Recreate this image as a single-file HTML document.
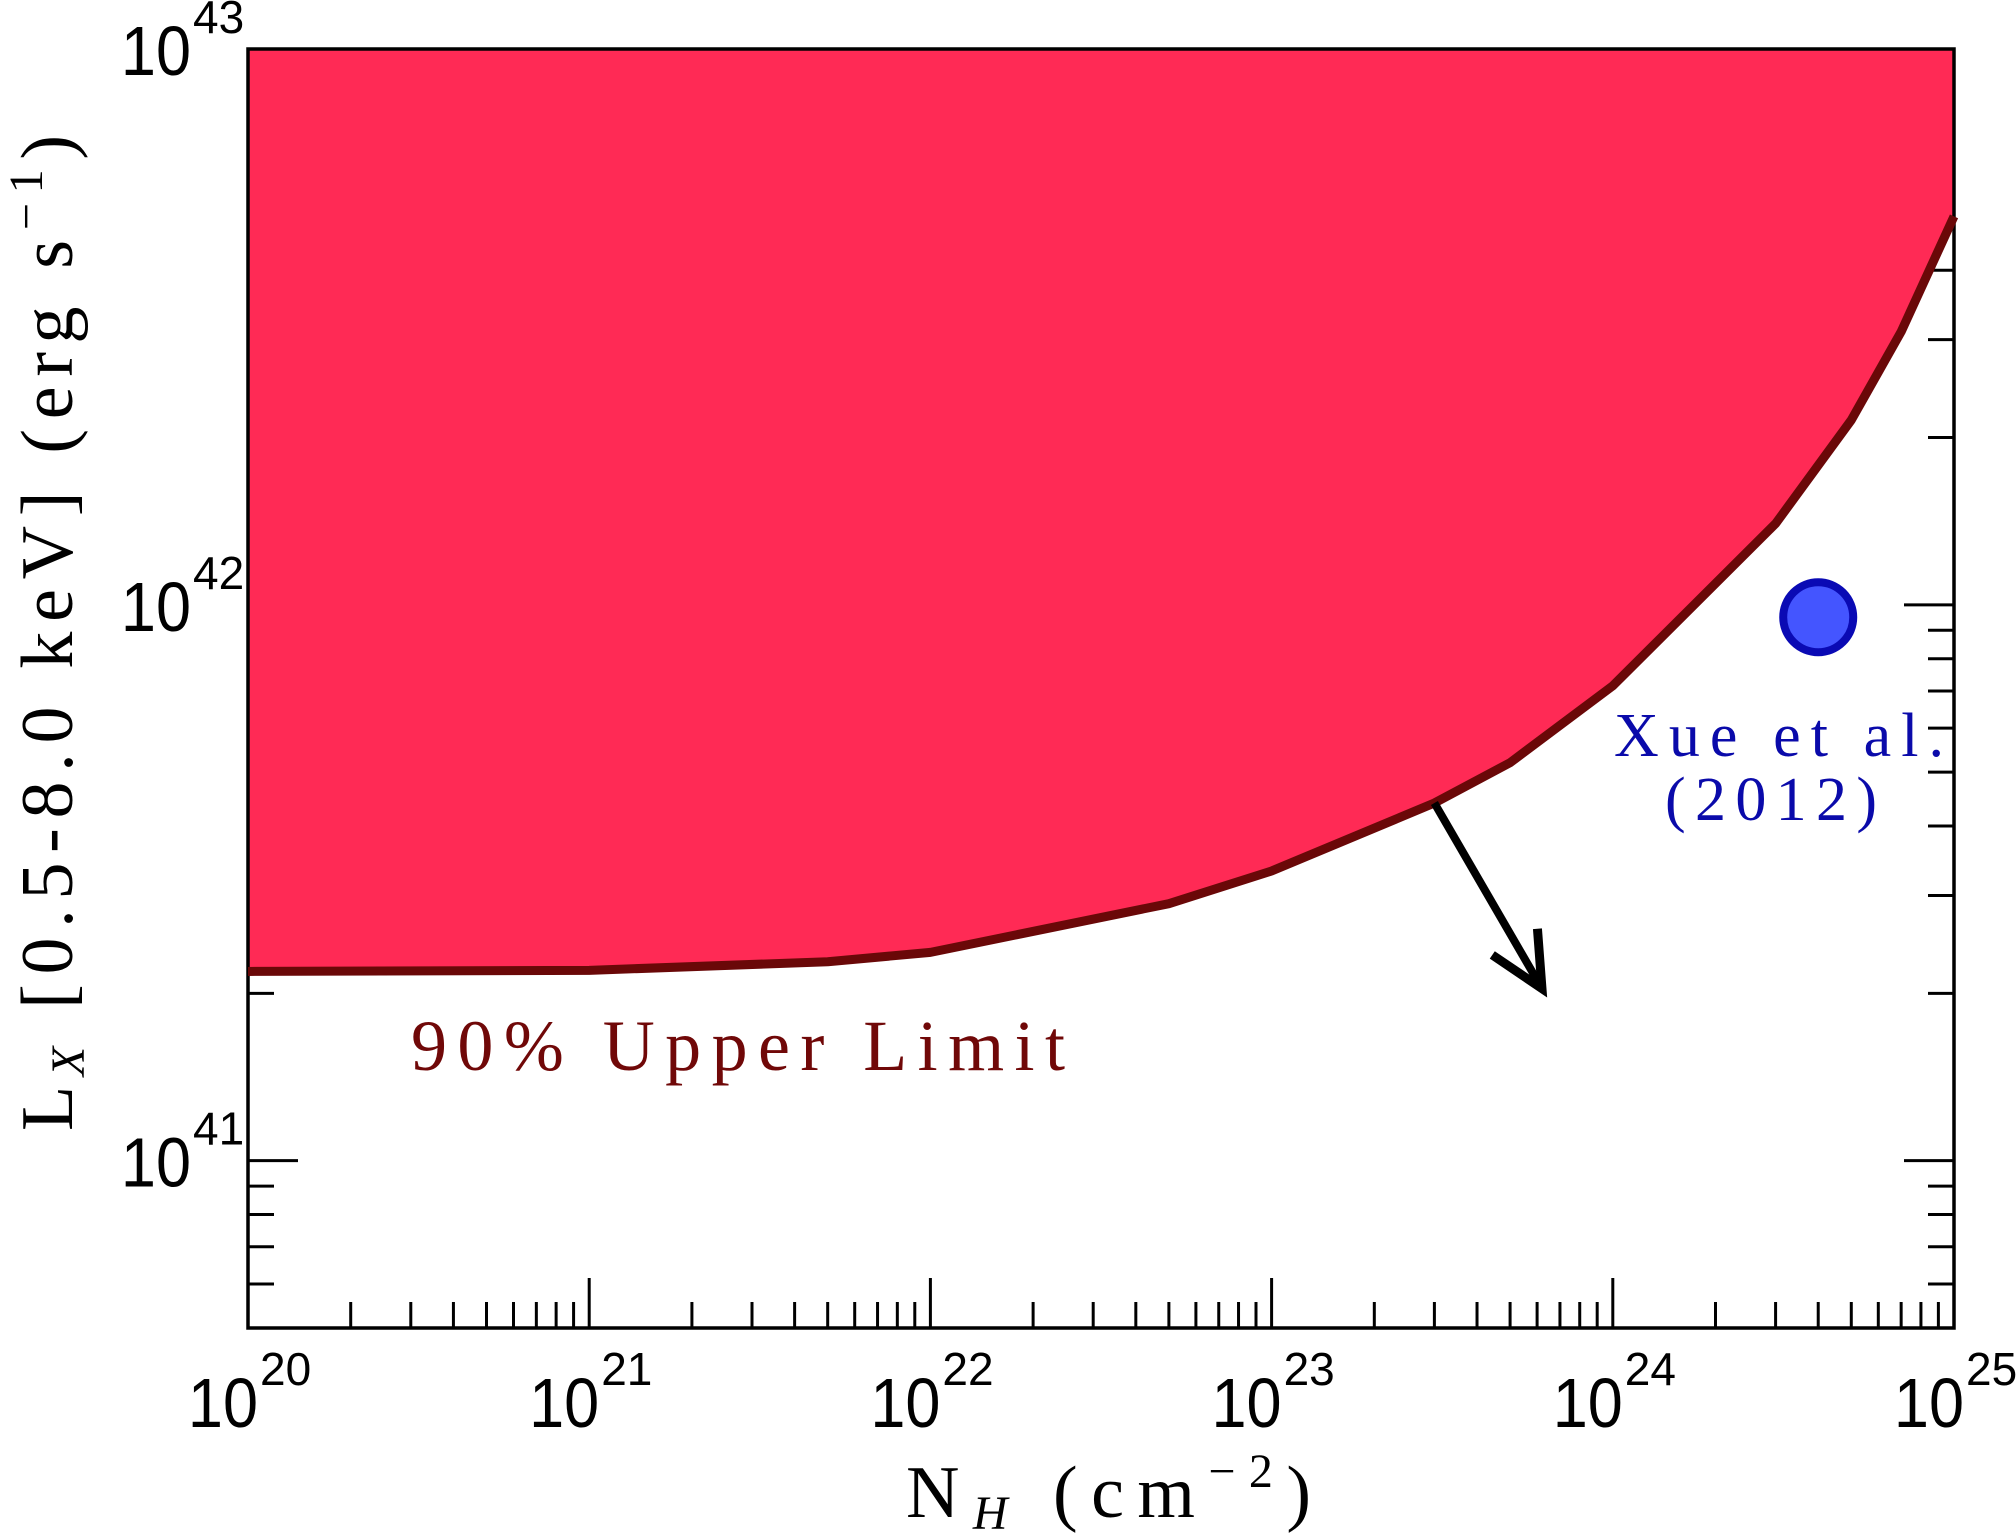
<!DOCTYPE html>
<html><head><meta charset="utf-8">
<style>
html,body{margin:0;padding:0;background:#fff;}
svg{display:block;}
.tick{font-family:"Liberation Sans",sans-serif;fill:#000;}
.serif{font-family:"Liberation Serif",serif;}
</style></head>
<body>
<svg id="chart" width="2016" height="1536" viewBox="0 0 2016 1536" xmlns="http://www.w3.org/2000/svg">
<g id="ticks"></g>
<path id="fill" fill="#ff2a55" stroke="none"/>
<rect x="248" y="49" width="1706" height="1279" fill="none" stroke="#000" stroke-width="3.5"/>
<path id="curve" fill="none" stroke="#6a0808" stroke-width="9" stroke-linejoin="round"/>
<g id="arrow"></g>
<circle id="xue" r="35" fill="#4455ff" stroke="#0a0ab4" stroke-width="8"/>
<text class="serif" x="1779" y="756" text-anchor="middle" font-size="62" fill="#0a0aaa" textLength="330" lengthAdjust="spacing">Xue et al.</text>
<text class="serif" x="1771" y="820" text-anchor="middle" font-size="62" fill="#0a0aaa" textLength="212" lengthAdjust="spacing">(2012)</text>
<text class="serif" x="411" y="1070" font-size="72" fill="#700808" textLength="654" lengthAdjust="spacing">90% Upper Limit</text>
<text class="serif" font-size="74" fill="#000" transform="translate(72,633) rotate(-90)" text-anchor="middle" textLength="996" lengthAdjust="spacing">L<tspan font-style="italic" font-size="48" dy="12">X</tspan><tspan dy="-12"> [0.5-8.0 keV] (erg s</tspan><tspan font-size="48" dy="-30">−1</tspan><tspan dy="30">)</tspan></text>
<text class="serif" font-size="74" fill="#000" x="906" y="1517" textLength="405" lengthAdjust="spacing">N<tspan font-style="italic" font-size="48" dy="12">H</tspan><tspan dy="-12"> (cm</tspan><tspan font-size="48" dy="-30">−2</tspan><tspan dy="30">)</tspan></text>
<g id="labels"></g>
</svg>
<script>
const nhValues = [1e20, 1e21, 5e21, 1e22, 5e22, 1e23, 3e23, 5e23, 1e24, 3e24, 5e24, 7e24, 1e25];
const lxValues = [2.19e41, 2.2e41, 2.28e41, 2.37e41, 2.9e41, 3.32e41, 4.4e41, 5.2e41, 7.15e41, 1.4e42, 2.15e42, 3.1e42, 5.0e42];
const xueNH = [4e24];
const xueLX = [9.5e41];
const arrowFrom = [3e23, 4.4e41];
const arrowTo = [6.2e23, 2.04e41];
const xTickExps = [20, 21, 22, 23, 24, 25];
const yTickExps = [41, 42, 43];

const L=248,R=1954,T=49,B=1328;
const xMin=20,xMax=25,yMin=Math.log10(5e40),yMax=43;
function sx(v){return L+(Math.log10(v)-xMin)/(xMax-xMin)*(R-L);}
function sy(v){return T+(yMax-Math.log10(v))/(yMax-yMin)*(B-T);}
const NS='http://www.w3.org/2000/svg';
function mk(tag,attrs,parent){const e=document.createElementNS(NS,tag);for(const k in attrs)e.setAttribute(k,attrs[k]);parent.appendChild(e);return e;}

const tg=document.getElementById('ticks');
for(let e=20;e<25;e++){for(let m=1;m<=9;m++){
  const x=sx(m*Math.pow(10,e)); const len=m===1?50:26;
  if(m===1&&e===20)continue;
  const t1=mk('line',{x1:x,x2:x,y1:B,y2:B-len,stroke:'#000','stroke-width':3},tg);
  
  
  const t2=mk('line',{x1:x,x2:x,y1:T,y2:T+len,stroke:'#000','stroke-width':3},tg);
  
  
}}
for(let e=40;e<43;e++){for(let m=1;m<=9;m++){
  const v=m*Math.pow(10,e); if(Math.log10(v)<yMin-1e-9||Math.log10(v)>=yMax)continue;
  const y=sy(v); const len=m===1?50:26;
  const t1=mk('line',{x1:R,x2:R-len,y1:y,y2:y,stroke:'#000','stroke-width':3},tg);
  
  
  const t2=mk('line',{x1:L,x2:L+len,y1:y,y2:y,stroke:'#000','stroke-width':3},tg);
  
  
}}

let d='M'+sx(nhValues[0])+','+sy(lxValues[0]);
for(let i=1;i<nhValues.length;i++)d+=' L'+sx(nhValues[i])+','+sy(lxValues[i]);
document.getElementById('curve').setAttribute('d',d);
document.getElementById('fill').setAttribute('d',d+' L'+R+','+T+' L'+L+','+T+' Z');

const xc=document.getElementById('xue');
xc.setAttribute('cx',sx(xueNH[0]));xc.setAttribute('cy',sy(xueLX[0]));

const ag=document.getElementById('arrow');
const ax1=sx(arrowFrom[0]),ay1=sy(arrowFrom[1]),ax2=sx(arrowTo[0]),ay2=sy(arrowTo[1]);
const sh=mk('line',{x1:ax1,y1:ay1,x2:ax2,y2:ay2,stroke:'#000','stroke-width':8},ag);


const ang=Math.atan2(ay2-ay1,ax2-ax1),hl=60,ha=0.45;
const hd=mk('polyline',{points:(ax2-hl*Math.cos(ang-ha))+','+(ay2-hl*Math.sin(ang-ha))+' '+ax2+','+ay2+' '+(ax2-hl*Math.cos(ang+ha))+','+(ay2-hl*Math.sin(ang+ha)),fill:'none',stroke:'#000','stroke-width':9,'stroke-linejoin':'miter'},ag);



const lg=document.getElementById('labels');
xTickExps.forEach(e=>{
  const x=sx(Math.pow(10,e));
  const t=mk('text',{x:x+10,y:1427,'text-anchor':'end','font-size':70,class:'tick',transform:'translate('+(x+10)+',0) scale(0.9,1) translate('+(-(x+10))+',0)'},lg);
  t.textContent='10';
  
  
  const s=mk('text',{x:x+12,y:1385,'font-size':46,class:'tick'},lg);
  s.textContent=String(e);
  
  
});
yTickExps.forEach(e=>{
  const y=sy(Math.pow(10,e));
  const t=mk('text',{x:191,y:y+26,'text-anchor':'end','font-size':70,class:'tick',transform:'translate(191,0) scale(0.9,1) translate(-191,0)'},lg);
  t.textContent='10';
  
  
  const s=mk('text',{x:193,y:y-16,'font-size':46,class:'tick'},lg);
  s.textContent=String(e);
  
  
});
</script>
</body></html>
